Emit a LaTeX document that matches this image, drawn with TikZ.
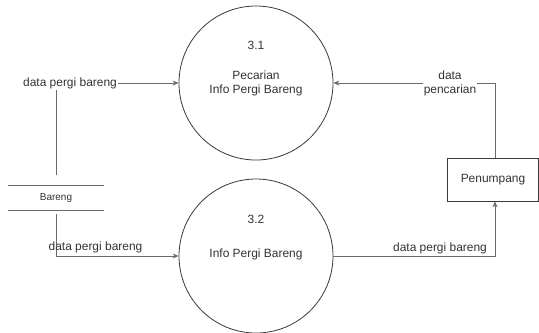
\documentclass[tikz,border=0pt]{standalone}
\usepackage{fontspec}
\setmainfont{Liberation Sans}
\usetikzlibrary{arrows.meta}
\definecolor{linegray}{HTML}{6A6A6A}
\definecolor{edgegray}{HTML}{3A3A3A}
\definecolor{textgray}{HTML}{333333}
\begin{document}
\begin{tikzpicture}[x=1bp,y=-1bp,
  line/.style={draw=linegray, line width=0.8bp},
  flow/.style={line, -{Stealth[length=6bp,width=5bp]}},
  process/.style={circle, draw=edgegray, line width=0.8bp, minimum size=154bp,
    inner sep=0pt, align=center, text=textgray, font=\fontsize{12}{14}\selectfont},
  entity/.style={rectangle, draw=edgegray, line width=0.8bp, minimum width=91bp,
    minimum height=43bp, text=textgray, font=\fontsize{12}{14}\selectfont},
  lbl/.style={text=textgray, font=\fontsize{12}{14}\selectfont, inner sep=1bp, align=center},
  storebox/.style={minimum width=96bp, minimum height=24bp, inner sep=0pt,
    text=textgray, font=\fontsize{10}{12}\selectfont}]
\useasboundingbox[fill=white] (0,0) rectangle (539,332);

% processes
\node[process] (p1) at (256,83) {Pecarian\\Info Pergi Bareng};
\node[lbl] (n1) at ([yshift=38bp]p1.center) {3.1};
\node[process] (p2) at (256,256) {\raisebox{6bp}{Info Pergi Bareng}};
\node[lbl] (n2) at ([yshift=37bp]p2.center) {3.2};

% data store
\node[storebox] (store) at (56,198) {Bareng};
\draw[line] (store.north west) -- (store.north east);
\draw[line] (store.south west) -- (store.south east);

% external entity
\node[entity] (pen) at (493,179.5) {Penumpang};

% store -> 3.1
\node[lbl] (d1) at (70,83) {data pergi bareng};
\draw[line] ([yshift=11bp]store.north) -- (store.north |- d1.south);
\draw[flow] (d1.east) -- (p1.west);

% store -> 3.2
\draw[flow] ([yshift=-4bp]store.south) |- (p2.west);
\node[lbl] (d2) at (95.5,247.5) {data pergi bareng};

% Penumpang -> 3.1
\draw[flow] ([xshift=2bp]pen.north) |- (p1.east);
\node[lbl, fill=white] (d3) at (450,83) {data\\pencarian};

% 3.2 -> Penumpang
\draw[flow] (p2.east) -| ([xshift=2bp]pen.south);
\node[lbl] (d4) at (440,248) {data pergi bareng};
\end{tikzpicture}
\end{document}
